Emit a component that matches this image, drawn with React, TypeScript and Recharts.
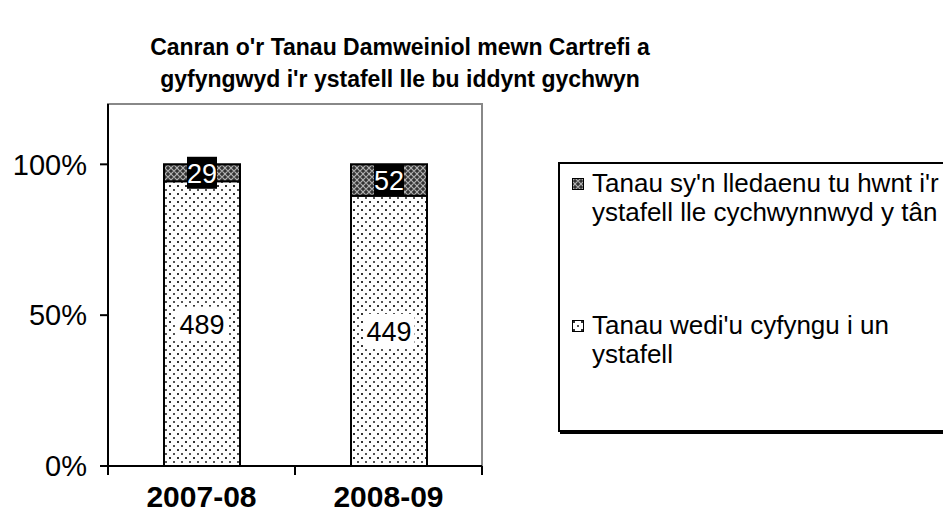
import { BarChart, Bar, XAxis, YAxis, LabelList, Legend, ReferenceArea } from "recharts";

const categories = ["2007-08", "2008-09"];
const contained = [489, 449];
const spread = [29, 52];
const yTicks = [0, 0.5, 1];

const legendSpread = ["Tanau sy'n lledaenu tu hwnt i'r", "ystafell lle cychwynnwyd y tân"];
const legendContained = ["Tanau wedi'u cyfyngu i un", "ystafell"];

// 100% stacked: shares are computed from the counts, labels show the counts
const data = categories.map((name, i) => {
  const total = contained[i] + spread[i];
  return {
    name,
    contained: contained[i],
    spread: spread[i],
    containedShare: contained[i] / total,
    spreadShare: spread[i] / total,
  };
});

const FONT = "'Liberation Sans', Arial, Helvetica, sans-serif";
const PLOT_W = 374;

function Patterns({ prefix }: { prefix: string }) {
  return (
    <defs>
      <pattern id={`${prefix}dots`} width="8" height="8" patternUnits="userSpaceOnUse">
        <rect width="8" height="8" fill="#fff" />
        <rect x="1" y="1" width="2" height="2" fill="#333" />
        <rect x="5" y="5" width="2" height="2" fill="#555" />
      </pattern>
      <pattern id={`${prefix}hatch`} width="6" height="6" patternUnits="userSpaceOnUse">
        <rect width="6" height="6" fill="#333" />
        <path d="M0 3 L3 0 L6 3 L3 6 Z" fill="none" stroke="#b0b0b0" strokeWidth="1.1" />
      </pattern>
    </defs>
  );
}

function DarkLabel(props: any) {
  const { x, y, width, height, value } = props;
  const cx = x + width / 2;
  const cy = y + height / 2;
  const w = String(value).length * 15;
  return (
    <g>
      <rect x={cx - w / 2} y={cy - 16} width={w} height={32} fill="#000" />
      <text x={cx} y={cy + 1} fill="#fff" textAnchor="middle" dominantBaseline="central" fontSize={27} fontFamily={FONT}>
        {value}
      </text>
    </g>
  );
}

function LightLabel(props: any) {
  const { x, y, width, height, value } = props;
  const cx = x + width / 2;
  const cy = y + height / 2;
  const w = String(value).length * 15 + 6;
  return (
    <g>
      <rect x={cx - w / 2} y={cy - 17} width={w} height={34} fill="#fff" />
      <text x={cx} y={cy + 1} fill="#000" textAnchor="middle" dominantBaseline="central" fontSize={27} fontFamily={FONT}>
        {value}
      </text>
    </g>
  );
}

function CategoryTick(props: any) {
  const { x, y, payload } = props;
  const half = PLOT_W / categories.length / 2;
  const isLast = payload.index === categories.length - 1;
  return (
    <g>
      <line x1={x - half} y1={y - 8} x2={x - half} y2={y + 1} stroke="#000" strokeWidth={2} />
      {isLast && <line x1={x + half} y1={y - 8} x2={x + half} y2={y + 1} stroke="#000" strokeWidth={2} />}
      <text x={x} y={y + 22} textAnchor="middle" dominantBaseline="central" fontSize={30} fontWeight="bold" fontFamily={FONT} fill="#000">
        {payload.value}
      </text>
    </g>
  );
}

function LegendIcon({ fill }: { fill: string }) {
  return (
    <svg width={12} height={12} style={{ marginRight: 8, marginTop: 9, flex: "none" }}>
      <Patterns prefix="lg" />
      <rect x={0.5} y={0.5} width={11} height={11} fill={fill} stroke="#000" strokeWidth={1} />
    </svg>
  );
}

function LegendBox() {
  const items = [
    { lines: legendSpread, fill: "url(#lghatch)", top: 5 },
    { lines: legendContained, fill: "url(#lgdots)", top: 147 },
  ];
  return (
    <div
      style={{
        width: 420,
        height: 270,
        boxSizing: "border-box",
        border: "2px solid #000",
        boxShadow: "2px 2px 0 #000",
        background: "#fff",
        position: "relative",
        fontFamily: FONT,
        fontSize: 26,
        lineHeight: "29px",
        color: "#000",
      }}
    >
      {items.map((it) => (
        <div key={it.top} style={{ position: "absolute", left: 12, top: it.top, display: "flex", whiteSpace: "nowrap" }}>
          <LegendIcon fill={it.fill} />
          <div>
            {it.lines.map((l) => (
              <div key={l}>{l}</div>
            ))}
          </div>
        </div>
      ))}
    </div>
  );
}

export default function App() {
  return (
    <div style={{ position: "absolute", left: 0, top: 0, width: 943, height: 524, overflow: "hidden", background: "#fff" }}>
      <div
        style={{
          position: "absolute",
          left: 0,
          top: 31,
          width: 800,
          textAlign: "center",
          fontFamily: FONT,
          fontWeight: "bold",
          fontSize: 23,
          lineHeight: "32px",
          color: "#000",
          zIndex: 2,
        }}
      >
        Canran o'r Tanau Damweiniol mewn Cartrefi a
        <br />
        gyfyngwyd i'r ystafell lle bu iddynt gychwyn
      </div>
      <BarChart width={943} height={524} data={data} margin={{ top: 104, right: 461, bottom: 0, left: 8 }}>
        <Patterns prefix="" />
        <ReferenceArea y1={0} y2={1.2} fill="none" stroke="#888" strokeWidth={2} ifOverflow="visible" />
        <XAxis
          dataKey="name"
          height={58}
          axisLine={{ stroke: "#000", strokeWidth: 2 }}
          tickLine={false}
          tick={<CategoryTick />}
          interval={0}
        />
        <YAxis
          width={100}
          domain={[0, 1.2]}
          ticks={yTicks}
          allowDataOverflow
          tickFormatter={(v: number) => `${Math.round(v * 100)}%`}
          axisLine={{ stroke: "#000", strokeWidth: 2 }}
          tickLine={{ stroke: "#000", strokeWidth: 2 }}
          tickSize={8}
          tick={{ fill: "#000", fontSize: 29, fontFamily: FONT, dx: -11 }}
        />
        <Bar dataKey="containedShare" stackId="a" barSize={76} fill="url(#dots)" stroke="#000" strokeWidth={2} isAnimationActive={false}>
          <LabelList dataKey="contained" content={<LightLabel />} />
        </Bar>
        <Bar dataKey="spreadShare" stackId="a" barSize={76} fill="url(#hatch)" stroke="#000" strokeWidth={2} isAnimationActive={false}>
          <LabelList dataKey="spread" content={<DarkLabel />} />
        </Bar>
        <Legend
          layout="horizontal"
          align="center"
          verticalAlign="middle"
          wrapperStyle={{ position: "absolute", left: 558, top: 162, width: 420, height: 270 }}
          content={() => <LegendBox />}
        />
      </BarChart>
    </div>
  );
}
